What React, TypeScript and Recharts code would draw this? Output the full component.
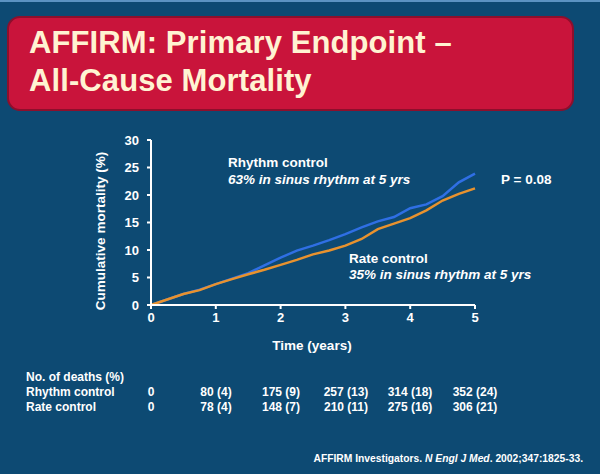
import { LineChart, Line, XAxis, YAxis } from "recharts";

// Kaplan-Meier style cumulative mortality
const years = [0, 0.25, 0.5, 0.75, 1, 1.25, 1.5, 1.75, 2, 2.25, 2.5, 2.75, 3, 3.25, 3.5, 3.75, 4, 4.25, 4.5, 4.75, 5];
const rhythm = [0, 1.0, 2.0, 2.8, 3.8, 4.8, 5.8, 7.2, 8.6, 9.9, 10.8, 11.8, 12.9, 14.1, 15.2, 16.0, 17.6, 18.3, 19.8, 22.3, 23.9];
const rate = [0, 1.0, 2.0, 2.7, 3.8, 4.7, 5.6, 6.4, 7.3, 8.2, 9.2, 9.9, 10.8, 12.0, 13.8, 14.8, 15.8, 17.2, 19.0, 20.2, 21.2];

const xTicks = [0, 1, 2, 3, 4, 5];
const yTicks = [0, 5, 10, 15, 20, 25, 30];

const rhythmDeaths = ["0", "80 (4)", "175 (9)", "257 (13)", "314 (18)", "352 (24)"];
const rateDeaths = ["0", "78 (4)", "148 (7)", "210 (11)", "275 (16)", "306 (21)"];

const data = years.map((t, i) => ({ t, rhythm: rhythm[i], rate: rate[i] }));

const BG = "#0d4a73";
const FONT = "'Liberation Sans', Arial, sans-serif";
const colX = [151, 216, 281, 346, 410, 475];

export default function App() {
  return (
    <div style={{ position: "absolute", left: 0, top: 0, width: 600, height: 474, background: BG, fontFamily: FONT }}>
      <LineChart
        width={600}
        height={474}
        data={data}
        margin={{ top: 140, right: 125, left: 111, bottom: 139 }}
      >
        <XAxis
          dataKey="t"
          type="number"
          domain={[0, 5]}
          ticks={xTicks}
          height={30}
          stroke="#ffffff"
          strokeWidth={2}
          tickSize={4}
          tickMargin={4}
          tick={{ fill: "#ffffff", fontSize: 13, fontWeight: 700, fontFamily: FONT }}
        />
        <YAxis
          type="number"
          domain={[0, 30]}
          ticks={yTicks}
          width={40}
          stroke="#ffffff"
          strokeWidth={2}
          tickSize={4}
          tickMargin={8}
          tick={{ fill: "#ffffff", fontSize: 13, fontWeight: 700, fontFamily: FONT }}
        />
        <Line type="linear" dataKey="rhythm" stroke="#2f6fe4" strokeWidth={2.5} dot={false} isAnimationActive={false} />
        <Line type="linear" dataKey="rate" stroke="#e8922e" strokeWidth={2.5} dot={false} isAnimationActive={false} />
      </LineChart>

      <svg width={600} height={474} style={{ position: "absolute", left: 0, top: 0, pointerEvents: "none" }} fontFamily={FONT}>
        <rect x={0} y={0} width={600} height={2} fill="#5b93c2" />
        <rect x={8} y={17} width={565} height={93} rx={12} fill="#c9143b" stroke="#8d0f2c" strokeWidth={2} />
        <text x={29} y={53} fill="#fff3d2" fontSize={31} fontWeight={700} letterSpacing={0.1}>
          AFFIRM: Primary Endpoint –
        </text>
        <text x={29} y={91} fill="#fff3d2" fontSize={31} fontWeight={700} letterSpacing={0.1}>
          All-Cause Mortality
        </text>

        <text x={0} y={0} transform="translate(105 231) rotate(-90)" textAnchor="middle" fill="#ffffff" fontSize={13.5} fontWeight={700}>
          Cumulative mortality (%)
        </text>
        <text x={312} y={350} textAnchor="middle" fill="#ffffff" fontSize={13.5} fontWeight={700}>
          Time (years)
        </text>

        <text x={228} y={167} fill="#ffffff" fontSize={13.5} fontWeight={700}>Rhythm control</text>
        <text x={228} y={184} fill="#ffffff" fontSize={13.5} fontWeight={700} fontStyle="italic">63% in sinus rhythm at 5 yrs</text>
        <text x={501} y={184} fill="#ffffff" fontSize={13.5} fontWeight={700}>P = 0.08</text>
        <text x={349} y={263} fill="#ffffff" fontSize={13.5} fontWeight={700}>Rate control</text>
        <text x={349} y={279} fill="#ffffff" fontSize={13.5} fontWeight={700} fontStyle="italic">35% in sinus rhythm at 5 yrs</text>

        <text x={26} y={381} fill="#ffffff" fontSize={12} fontWeight={700}>No. of deaths (%)</text>
        <text x={26} y={396} fill="#ffffff" fontSize={12} fontWeight={700}>Rhythm control</text>
        <text x={26} y={411} fill="#ffffff" fontSize={12} fontWeight={700}>Rate control</text>
        {rhythmDeaths.map((s, i) => (
          <text key={"rh" + i} x={colX[i]} y={396} textAnchor="middle" fill="#ffffff" fontSize={12} fontWeight={700}>{s}</text>
        ))}
        {rateDeaths.map((s, i) => (
          <text key={"ra" + i} x={colX[i]} y={411} textAnchor="middle" fill="#ffffff" fontSize={12} fontWeight={700}>{s}</text>
        ))}

        <text x={583} y={462} textAnchor="end" fill="#ffffff" fontSize={10.3} fontWeight={700}>
          AFFIRM Investigators. <tspan fontStyle="italic">N Engl J Med</tspan>. 2002;347:1825-33.
        </text>
      </svg>
    </div>
  );
}
